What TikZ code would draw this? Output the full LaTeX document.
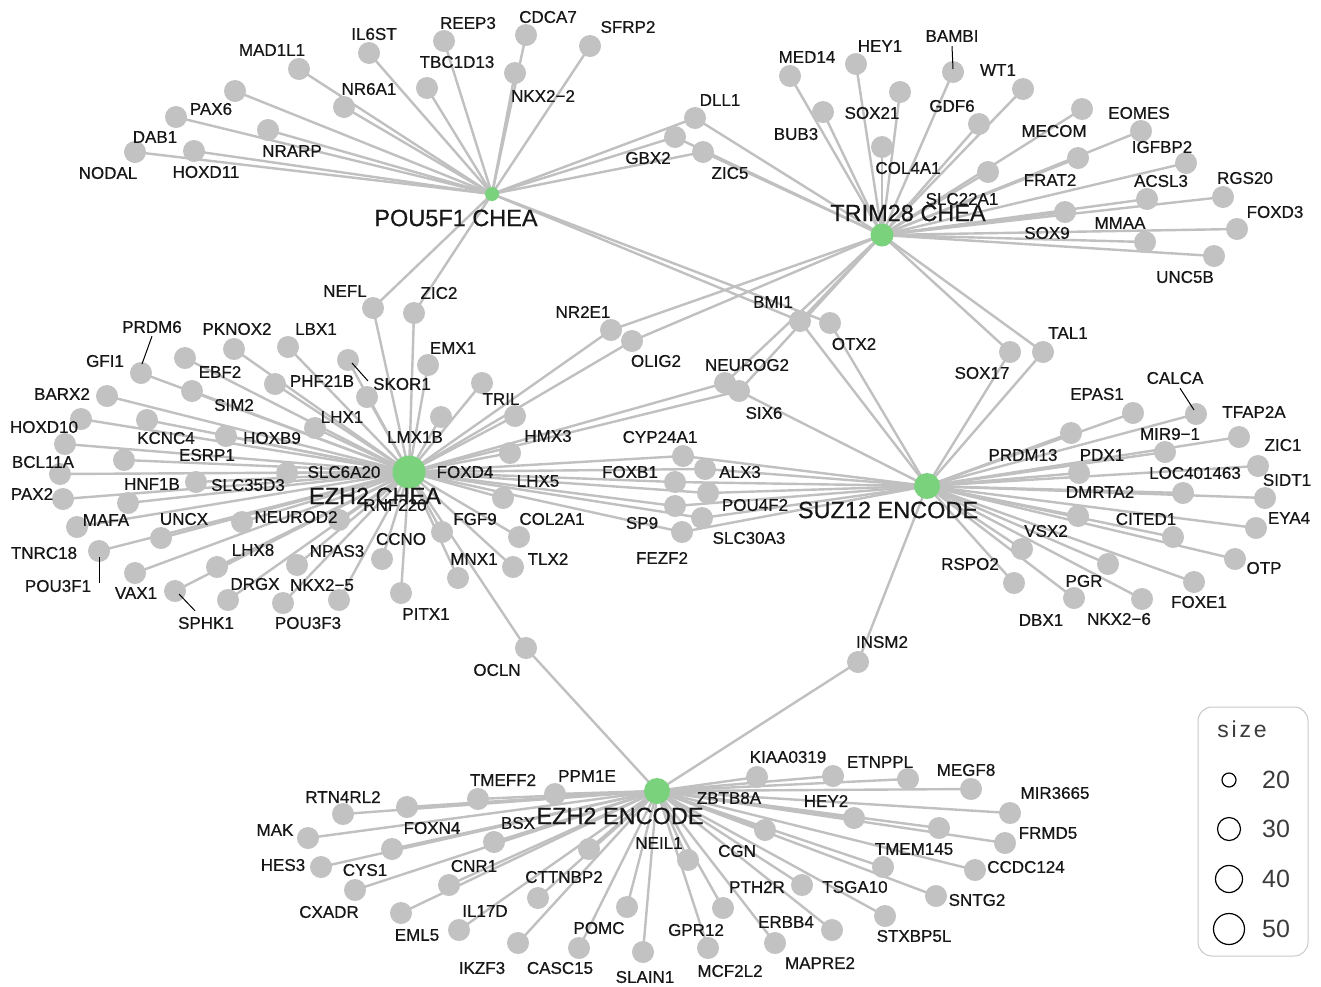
\documentclass[tikz,border=0pt]{standalone}
\usepackage{fontspec}
\setmainfont{Liberation Sans}
\newfontfamily\labfont{Liberation Sans}[FakeBold=0.6]
\newfontfamily\legfont{Liberation Sans}
\newfontfamily\sizefont{Liberation Sans}[LetterSpace=12]
\usetikzlibrary{calc}
\pgfdeclarelayer{bg}\pgfdeclarelayer{fg}\pgfsetlayers{bg,main,fg}
\definecolor{edgegray}{RGB}{192,192,192}
\definecolor{nodegray}{RGB}{194,194,194}
\definecolor{hubgreen}{RGB}{122,210,125}
\definecolor{txt}{RGB}{22,22,22}
\definecolor{leggray}{RGB}{200,200,200}
\definecolor{legtxt}{RGB}{60,60,60}
\tikzset{
 leaf/.style={circle,fill=nodegray,inner sep=0,minimum size=22},
 hub/.style={circle,fill=hubgreen,inner sep=0},
 edge/.style={draw=edgegray,line width=2.4},
 lab/.style={inner sep=0,text=txt,font=\labfont\fontsize{17}{17}\selectfont},
 hublab/.style={inner sep=0,text=txt,font=\labfont\fontsize{23.5}{24}\selectfont},
 leader/.style={draw=black,line width=1},
 legcirc/.style={circle,draw=black,line width=1.2,inner sep=0},
 legnum/.style={inner sep=0,text=legtxt,font=\legfont\fontsize{25}{25}\selectfont},
}
\newcommand\gene[6]{%
 \node[leaf] (#1) at (#2,#3) {};
 \begin{pgfonlayer}{fg}\node[lab] (L#1) at (#4,#5) {#6};\end{pgfonlayer}}
\newcommand\hublabel[4]{\node[hublab] (L#1) at (#2,#3) {#4};}
\begin{document}
\begin{tikzpicture}[x=1pt,y=-1pt]
\begin{pgfonlayer}{bg}\fill[white] (0,0) rectangle (1321,986);\end{pgfonlayer}
\useasboundingbox (0,0) rectangle (1321,986);
% hubs
\node[hub,minimum size=14] (P) at (492,194) {};
\node[hub,minimum size=23] (T) at (882,235) {};
\node[hub,minimum size=33] (E) at (409,472) {};
\node[hub,minimum size=26] (S) at (927,486) {};
\node[hub,minimum size=26] (EE) at (657,791) {};
% POU5F1 leaves
\gene{MAD1L1}{299}{69}{272}{50}{MAD1L1}
\gene{PAX6}{235}{91}{211}{109}{PAX6}
\gene{DAB1}{176}{117}{155}{137}{DAB1}
\gene{NODAL}{135}{152}{108}{173}{NODAL}
\gene{HOXD11}{194}{151}{206}{172}{HOXD11}
\gene{NRARP}{268}{130}{292}{151}{NRARP}
\gene{NR6A1}{344}{107}{369}{89}{NR6A1}
\gene{IL6ST}{369}{53}{374}{34}{IL6ST}
\gene{TBC1D13}{427}{88}{457}{62}{TBC1D13}
\gene{REEP3}{444}{41}{468}{23}{REEP3}
\gene{CDCA7}{526}{35}{548}{17}{CDCA7}
\gene{NKX2-2}{515}{73}{543}{96}{NKX2−2}
\gene{SFRP2}{590}{46}{628}{27}{SFRP2}
\gene{GBX2}{675}{137}{648}{158}{GBX2}
\gene{DLL1}{695}{118}{720}{100}{DLL1}
\gene{ZIC5}{703}{152}{730}{173}{ZIC5}
\gene{NEFL}{373}{308}{345}{291}{NEFL}
\gene{ZIC2}{414}{313}{439}{293}{ZIC2}
\gene{BMI1}{800}{321}{773}{302}{BMI1}
\gene{OTX2}{830}{323}{854}{344}{OTX2}
% TRIM28 leaves
\gene{MED14}{790}{76}{807}{57}{MED14}
\gene{HEY1}{856}{64}{880}{46}{HEY1}
\gene{BAMBI}{953}{72}{952}{36}{BAMBI}
\gene{BUB3}{823}{112}{796}{134}{BUB3}
\gene{SOX21}{900}{92}{872}{113}{SOX21}
\gene{COL4A1}{882}{147}{908}{168}{COL4A1}
\gene{GDF6}{979}{124}{952}{106}{GDF6}
\gene{WT1}{1023}{89}{998}{70}{WT1}
\gene{MECOM}{1082}{109}{1054}{131}{MECOM}
\gene{EOMES}{1141}{131}{1139}{113}{EOMES}
\gene{FRAT2}{1078}{158}{1050}{180}{FRAT2}
\gene{SLC22A1}{988}{172}{962}{199}{SLC22A1}
\gene{IGFBP2}{1186}{163}{1162}{147}{IGFBP2}
\gene{ACSL3}{1147}{199}{1161}{181}{ACSL3}
\gene{RGS20}{1223}{197}{1245}{178}{RGS20}
\gene{SOX9}{1065}{212}{1047}{233}{SOX9}
\gene{FOXD3}{1237}{229}{1275}{212}{FOXD3}
\gene{MMAA}{1145}{242}{1120}{223}{MMAA}
\gene{UNC5B}{1214}{256}{1185}{277}{UNC5B}
\gene{SOX17}{1010}{352}{982}{373}{SOX17}
\gene{TAL1}{1043}{352}{1068}{333}{TAL1}
\gene{NR2E1}{611}{330}{583}{312}{NR2E1}
\gene{OLIG2}{632}{341}{656}{361}{OLIG2}
\gene{NEUROG2}{725}{383}{747}{365}{NEUROG2}
\gene{SIX6}{739}{391}{764}{413}{SIX6}
% EZH2 CHEA / SUZ12 shared
\gene{CYP24A1}{683}{456}{660}{437}{CYP24A1}
\gene{ALX3}{705}{469}{740}{472}{ALX3}
\gene{FOXB1}{675}{482}{630}{472}{FOXB1}
\gene{POU4F2}{708}{493}{755}{505}{POU4F2}
\gene{SP9}{675}{506}{642}{523}{SP9}
\gene{SLC30A3}{702}{518}{749}{538}{SLC30A3}
\gene{FEZF2}{682}{532}{662}{558}{FEZF2}
\gene{OCLN}{526}{648}{497}{670}{OCLN}
\gene{INSM2}{858}{662}{882}{642}{INSM2}
% EZH2 CHEA leaves
\gene{PRDM6}{141}{373}{152}{327}{PRDM6}
\gene{GFI1}{107}{396}{105}{361}{GFI1}
\gene{BARX2}{81}{419}{62}{394}{BARX2}
\gene{HOXD10}{65}{444}{44}{427}{HOXD10}
\gene{BCL11A}{60}{474}{43}{462}{BCL11A}
\gene{PAX2}{63}{499}{32}{494}{PAX2}
\gene{TNRC18}{77}{527}{44}{553}{TNRC18}
\gene{MAFA}{128}{503}{106}{520}{MAFA}
\gene{HNF1B}{124}{460}{152}{484}{HNF1B}
\gene{KCNC4}{147}{420}{166}{438}{KCNC4}
\gene{ESRP1}{226}{436}{207}{455}{ESRP1}
\gene{HOXB9}{315}{428}{272}{438}{HOXB9}
\gene{SIM2}{192}{391}{234}{405}{SIM2}
\gene{EBF2}{185}{358}{220}{372}{EBF2}
\gene{PKNOX2}{234}{349}{237}{329}{PKNOX2}
\gene{LBX1}{288}{347}{316}{329}{LBX1}
\gene{PHF21B}{275}{384}{322}{381}{PHF21B}
\gene{LHX1}{367}{397}{342}{417}{LHX1}
\gene{SLC6A20}{287}{473}{344}{472}{SLC6A20}
\gene{SLC35D3}{196}{482}{248}{485}{SLC35D3}
\gene{UNCX}{161}{538}{184}{519}{UNCX}
\gene{NEUROD2}{242}{522}{296}{517}{NEUROD2}
\gene{POU3F1}{99}{551}{58}{586}{POU3F1}
\gene{VAX1}{135}{573}{136}{593}{VAX1}
\gene{SPHK1}{175}{591}{206}{623}{SPHK1}
\gene{LHX8}{217}{567}{253}{550}{LHX8}
\gene{DRGX}{228}{600}{255}{584}{DRGX}
\gene{POU3F3}{283}{603}{308}{623}{POU3F3}
\gene{NPAS3}{297}{565}{337}{551}{NPAS3}
\gene{NKX2-5}{339}{600}{322}{585}{NKX2−5}
\gene{RNF220}{339}{520}{395}{505}{RNF220}
\gene{SKOR1}{348}{360}{402}{384}{SKOR1}
\gene{EMX1}{428}{365}{453}{348}{EMX1}
\gene{TRIL}{482}{383}{501}{399}{TRIL}
\gene{LMX1B}{441}{417}{415}{437}{LMX1B}
\gene{FOXD4}{515}{416}{465}{472}{FOXD4}
\gene{HMX3}{510}{453}{548}{436}{HMX3}
\gene{LHX5}{503}{498}{538}{481}{LHX5}
\gene{FGF9}{442}{532}{475}{519}{FGF9}
\gene{COL2A1}{519}{537}{552}{519}{COL2A1}
\gene{TLX2}{513}{567}{548}{559}{TLX2}
\gene{MNX1}{458}{578}{474}{559}{MNX1}
\gene{CCNO}{382}{559}{401}{539}{CCNO}
\gene{PITX1}{401}{593}{426}{614}{PITX1}
% SUZ12 leaves
\gene{EPAS1}{1133}{413}{1097}{394}{EPAS1}
\gene{PRDM13}{1071}{433}{1023}{455}{PRDM13}
\gene{CALCA}{1196}{414}{1175}{378}{CALCA}
\gene{TFAP2A}{1239}{437}{1254}{412}{TFAP2A}
\gene{MIR9-1}{1165}{452}{1170}{434}{MIR9−1}
\gene{PDX1}{1079}{473}{1102}{455}{PDX1}
\gene{ZIC1}{1258}{466}{1283}{445}{ZIC1}
\gene{LOC401463}{1183}{493}{1195}{473}{LOC401463}
\gene{SIDT1}{1265}{498}{1287}{480}{SIDT1}
\gene{DMRTA2}{1078}{516}{1100}{492}{DMRTA2}
\gene{EYA4}{1256}{528}{1289}{518}{EYA4}
\gene{CITED1}{1173}{537}{1146}{519}{CITED1}
\gene{OTP}{1235}{559}{1264}{568}{OTP}
\gene{VSX2}{1022}{549}{1046}{531}{VSX2}
\gene{PGR}{1108}{564}{1084}{581}{PGR}
\gene{FOXE1}{1194}{582}{1199}{602}{FOXE1}
\gene{NKX2-6}{1142}{599}{1119}{619}{NKX2−6}
\gene{DBX1}{1074}{598}{1041}{620}{DBX1}
\gene{RSPO2}{1014}{583}{970}{564}{RSPO2}
% EZH2 ENCODE leaves
\gene{RTN4RL2}{343}{814}{343}{797}{RTN4RL2}
\gene{MAK}{308}{838}{275}{830}{MAK}
\gene{HES3}{321}{867}{283}{865}{HES3}
\gene{CXADR}{355}{890}{329}{912}{CXADR}
\gene{CYS1}{392}{849}{365}{870}{CYS1}
\gene{FOXN4}{407}{807}{432}{828}{FOXN4}
\gene{TMEFF2}{478}{799}{503}{780}{TMEFF2}
\gene{PPM1E}{555}{794}{587}{776}{PPM1E}
\gene{BSX}{494}{842}{518}{823}{BSX}
\gene{CNR1}{449}{885}{474}{866}{CNR1}
\gene{EML5}{401}{913}{417}{935}{EML5}
\gene{IL17D}{459}{930}{485}{911}{IL17D}
\gene{CTTNBP2}{538}{898}{564}{877}{CTTNBP2}
\gene{IKZF3}{518}{943}{482}{968}{IKZF3}
\gene{CASC15}{579}{948}{560}{968}{CASC15}
\gene{POMC}{627}{907}{599}{928}{POMC}
\gene{SLAIN1}{643}{952}{645}{977}{SLAIN1}
\node[leaf] (EEx) at (589,849) {};
\gene{NEIL1}{688}{860}{659}{843}{NEIL1}
\gene{GPR12}{723}{908}{696}{930}{GPR12}
\gene{MCF2L2}{708}{948}{730}{971}{MCF2L2}
\gene{KIAA0319}{757}{777}{788}{757}{KIAA0319}
\gene{ETNPPL}{833}{776}{880}{762}{ETNPPL}
\gene{ZBTB8A}{908}{779}{729}{798}{ZBTB8A}
\gene{MEGF8}{971}{789}{966}{770}{MEGF8}
\gene{HEY2}{854}{818}{826}{801}{HEY2}
\gene{CGN}{765}{830}{737}{851}{CGN}
\gene{TMEM145}{939}{828}{914}{849}{TMEM145}
\gene{TSGA10}{883}{867}{855}{887}{TSGA10}
\gene{CCDC124}{975}{870}{1026}{867}{CCDC124}
\gene{PTH2R}{802}{885}{757}{887}{PTH2R}
\gene{SNTG2}{936}{896}{977}{900}{SNTG2}
\gene{STXBP5L}{885}{916}{914}{936}{STXBP5L}
\gene{MAPRE2}{832}{930}{820}{963}{MAPRE2}
\gene{ERBB4}{775}{943}{786}{922}{ERBB4}
\gene{MIR3665}{1010}{813}{1055}{793}{MIR3665}
\gene{FRMD5}{1005}{843}{1048}{833}{FRMD5}
% edges
\begin{pgfonlayer}{bg}
\foreach \n in {MAD1L1,PAX6,DAB1,NODAL,HOXD11,NRARP,NR6A1,IL6ST,TBC1D13,REEP3,CDCA7,NKX2-2,SFRP2,GBX2,DLL1,ZIC5,NEFL,ZIC2,BMI1,OTX2} \draw[edge] (P.center) -- (\n.center);
\foreach \n in {MED14,HEY1,BAMBI,BUB3,SOX21,COL4A1,GDF6,WT1,MECOM,EOMES,FRAT2,SLC22A1,IGFBP2,ACSL3,RGS20,SOX9,FOXD3,MMAA,UNC5B,GBX2,DLL1,ZIC5,SOX17,TAL1,NR2E1,OLIG2,NEUROG2,SIX6,BMI1} \draw[edge] (T.center) -- (\n.center);
\foreach \n in {PRDM6,GFI1,BARX2,HOXD10,BCL11A,PAX2,TNRC18,MAFA,HNF1B,KCNC4,ESRP1,HOXB9,SIM2,EBF2,PKNOX2,LBX1,PHF21B,LHX1,SLC6A20,SLC35D3,UNCX,NEUROD2,POU3F1,VAX1,SPHK1,LHX8,DRGX,POU3F3,NPAS3,NKX2-5,RNF220,SKOR1,EMX1,TRIL,LMX1B,FOXD4,HMX3,LHX5,FGF9,COL2A1,TLX2,MNX1,CCNO,PITX1,NEFL,ZIC2,NR2E1,OLIG2,NEUROG2,SIX6,CYP24A1,ALX3,FOXB1,POU4F2,SP9,SLC30A3,FEZF2,OCLN} \draw[edge] (E.center) -- (\n.center);
\foreach \n in {EPAS1,PRDM13,CALCA,TFAP2A,MIR9-1,PDX1,ZIC1,LOC401463,SIDT1,DMRTA2,EYA4,CITED1,OTP,VSX2,PGR,FOXE1,NKX2-6,DBX1,RSPO2,SOX17,TAL1,SIX6,BMI1,OTX2,CYP24A1,ALX3,FOXB1,POU4F2,SP9,SLC30A3,FEZF2,INSM2} \draw[edge] (S.center) -- (\n.center);
\foreach \n in {RTN4RL2,MAK,HES3,CXADR,CYS1,FOXN4,TMEFF2,PPM1E,BSX,CNR1,EML5,IL17D,CTTNBP2,IKZF3,CASC15,POMC,SLAIN1,EEx,NEIL1,GPR12,MCF2L2,KIAA0319,ETNPPL,ZBTB8A,MEGF8,HEY2,CGN,TMEM145,TSGA10,CCDC124,PTH2R,SNTG2,STXBP5L,MAPRE2,ERBB4,MIR3665,FRMD5,OCLN,INSM2} \draw[edge] (EE.center) -- (\n.center);
\end{pgfonlayer}
% leader lines and hub labels
\begin{pgfonlayer}{fg}
\draw[leader] ($(LPRDM6.south)+(0,3)$) -- ($(PRDM6.center)+(1,-9)$);
\draw[leader] ($(LBAMBI.south)+(0,4)$) -- ($(BAMBI.center)+(0,-3)$);
\draw[leader] ($(LCALCA.south)+(5,4)$) -- ($(CALCA.center)+(-2,-4)$);
\draw[leader] ($(POU3F1 |- LPOU3F1.center)+(0,-3)$) -- ($(POU3F1.center)+(0,6)$);
\draw[leader] ($(LSPHK1.north)+(-11,-6)$) -- ($(SPHK1.center)+(4,3)$);
\draw[leader] ($(LSKOR1.west)+(-5,-3)$) -- ($(SKOR1.center)+(4,3)$);
\hublabel{P}{456}{218}{POU5F1 CHEA}
\hublabel{T}{908}{213}{TRIM28 CHEA}
\hublabel{E}{375}{496}{EZH2 CHEA}
\hublabel{S}{888}{510}{SUZ12 ENCODE}
\hublabel{EE}{620}{816}{EZH2 ENCODE}
\end{pgfonlayer}
% legend
\node[draw=leggray,line width=1,rounded corners=14,minimum width=110,minimum height=249,inner sep=0] (legend) at (1253,831.5) {};
\node[inner sep=0,text=legtxt,font=\sizefont\fontsize{23}{23}\selectfont] (legtitle) at (1242,729) {size};
\node[legcirc,minimum size=14] (c20) at (1229,780) {};
\node[legcirc,minimum size=23] (c30) at (1229,829) {};
\node[legcirc,minimum size=27] (c40) at (1229,879) {};
\node[legcirc,minimum size=31] (c50) at (1229,929) {};
\node[legnum] (n20) at (1276,780) {20};
\node[legnum] (n30) at (1276,829) {30};
\node[legnum] (n40) at (1276,879) {40};
\node[legnum] (n50) at (1276,929) {50};
\end{tikzpicture}
\end{document}
